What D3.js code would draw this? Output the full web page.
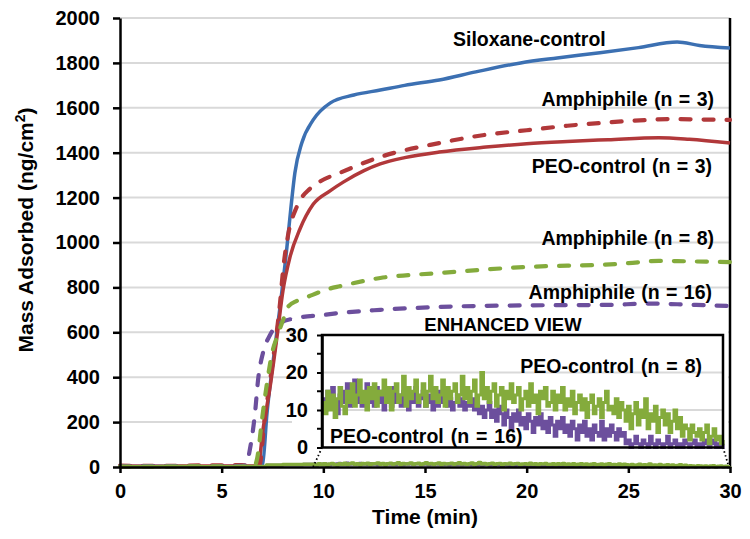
<!DOCTYPE html>
<html>
<head>
<meta charset="utf-8">
<script src="https://cdn.jsdelivr.net/npm/d3@7"></script>
<style>
  html, body { margin: 0; padding: 0; background: #fff; }
  svg { display: block; }
  text { font-family: "Liberation Sans", Arial, sans-serif; font-weight: bold; fill: #000; }
</style>
</head>
<body>
<svg id="chart" width="750" height="539"></svg>
<script>
// ---------- DATA ----------
const xTickValues = [0, 5, 10, 15, 20, 25, 30];
const yTickValues = [0, 200, 400, 600, 800, 1000, 1200, 1400, 1600, 1800, 2000];
const insetTickValues = [0, 10, 20, 30];
const insetMinorTicks = [5, 15, 25];

// Siloxane-control (blue solid)
const siloxaneTime  = [0, 2, 4, 6, 6.9, 7.0, 7.23, 7.62, 7.87, 8.21, 8.4, 8.6, 8.94, 9.5, 10.33, 11.5, 12.8, 14.0, 15.7, 17.5, 19.7, 21.5, 23.6, 25.5, 27.4, 28.5, 30];
const siloxaneMass  = [2, 3, 1, 3, 2, 5, 240, 535, 713, 980, 1150, 1310, 1443, 1546, 1621, 1657, 1679, 1700, 1724, 1760, 1800, 1822, 1845, 1868, 1893, 1878, 1866];

// PEO-control (n = 3) (red solid)
const peo3Time = [0, 2, 4, 6, 6.79, 7.03, 7.38, 7.72, 8.02, 8.36, 8.85, 9.5, 10.33, 11.0, 12.0, 12.8, 14.0, 15.7, 18.0, 20.0, 22.0, 24.0, 26.5, 28.0, 30];
const peo3Mass = [4, 3, 5, 4, 4, 165, 356, 579, 788, 935, 1060, 1170, 1230, 1270, 1320, 1350, 1378, 1403, 1425, 1440, 1450, 1458, 1467, 1460, 1443];

// Amphiphile (n = 3) (red dashed)
const amph3Time = [0, 2, 4, 6, 6.85, 7.1, 7.45, 7.87, 8.02, 8.26, 8.7, 9.35, 9.84, 10.8, 12.8, 15.7, 18.0, 20.0, 22.0, 24.0, 26.0, 27.0, 28.5, 30];
const amph3Mass = [6, 5, 7, 8, 6, 200, 430, 730, 877, 1030, 1160, 1240, 1272, 1310, 1381, 1443, 1480, 1500, 1520, 1535, 1546, 1550, 1548, 1546];

// Amphiphile (n = 8) (green dashed)
const amph8Time = [0, 2, 4, 6, 6.6, 6.75, 6.98, 7.23, 7.48, 7.72, 8.0, 8.26, 8.7, 9.2, 9.84, 10.33, 10.8, 12.8, 15.7, 18.0, 20.0, 22.0, 23.6, 25.0, 26.5, 28.0, 30];
const amph8Mass = [2, 2, 3, 2, 3, 40, 209, 374, 508, 579, 650, 713, 740, 757, 780, 795, 805, 842, 864, 880, 891, 897, 900, 908, 918, 916, 913];

// Amphiphile (n = 16) (purple dashed)
const amph16Time = [0, 2, 4, 6, 6.2, 6.39, 6.64, 6.79, 7.03, 7.38, 7.87, 8.7, 9.98, 10.8, 12.8, 15.7, 20.0, 24.0, 26.0, 28.0, 30];
const amph16Mass = [3, 4, 3, 5, 8, 80, 240, 388, 508, 588, 641, 664, 677, 686, 700, 713, 720, 722, 728, 723, 717];

// PEO-control (n = 8) and (n = 16): baseline before the enhanced window
const peoBaseTime = [0, 2, 4, 6, 6.8, 7.2, 8.0, 9.0];
const peo8Base    = [1, 2, 1, 2, 2, 9, 11, 12];
const peo16Base   = [1, 1, 2, 1, 1, 8, 10, 12];

// Enhanced view: sampled every 0.125 min from 9.5 to 30 min
const insetStart = 9.5;
const insetStep = 0.125;
const peo8Inset = [
  12, 9, 15, 10, 14, 8, 13, 16, 11, 9,
  15, 12, 17, 11, 14, 18, 12, 15, 10, 16,
  13, 17, 11, 15, 14, 18, 12, 16, 10, 15,
  17, 12, 14, 19, 11, 16, 13, 15, 18, 12,
  14, 17, 11, 15, 19, 13, 16, 12, 14, 18,
  11, 16, 13, 15, 17, 12, 14, 19, 13, 16,
  12, 15, 18, 11, 14, 20, 13, 16, 12, 15,
  17, 11, 14, 16, 10, 15, 13, 17, 12, 14,
  16, 10, 13, 15, 11, 17, 12, 14, 9, 15,
  13, 16, 11, 12, 15, 10, 14, 12, 16, 10,
  13, 11, 15, 9, 12, 14, 10, 13, 8, 12,
  14, 9, 11, 13, 8, 12, 15, 10, 11, 9,
  13, 8, 12, 10, 7, 11, 5, 9, 12, 6,
  10, 8, 13, 5, 9, 7, 11, 4, 8, 10,
  6, 9, 4, 7, 10, 5, 8, 3, 6, 5,
  2, 6, 4, 3, 5, 2, 4, 6, 1, 3,
  5, 2, 3, 1, 2
];
const peo16Inset = [
  13, 10, 15, 11, 16, 12, 9, 14, 12, 15,
  17, 11, 14, 18, 12, 15, 11, 13, 17, 12,
  14, 11, 16, 12, 15, 10, 13, 14, 11, 16,
  12, 14, 11, 15, 13, 10, 14, 12, 16, 11,
  13, 15, 11, 12, 14, 10, 13, 11, 15, 12,
  14, 11, 13, 10, 12, 14, 11, 13, 10, 12,
  11, 13, 10, 12, 9, 11, 8, 10, 12, 8,
  10, 7, 11, 9, 6, 10, 8, 5, 9, 7,
  10, 6, 8, 5, 9, 7, 4, 8, 6, 9,
  5, 7, 4, 8, 6, 3, 7, 5, 8, 4,
  6, 3, 7, 5, 2, 6, 4, 7, 3, 5,
  2, 6, 4, 3, 7, 2, 5, 3, 6, 4,
  2, 5, 3, 4, 1, 2, 0, 1, 3, 1,
  0, 2, 1, 0, 3, 1, 0, 2, 1, 0,
  1, 3, 0, 1, 2, 0, 1, 0, 2, 1,
  0, 1, 2, 0, 1, 0, 2, 1, 0, 1,
  2, 0, 1, 0, 1
];

// ---------- BUILD ----------
const zip = (ts, vs) => ts.map((t, i) => ({ t, v: vs[i] }));
const insetPts = vs => vs.map((v, i) => ({ t: insetStart + i * insetStep, v }));

const colors = { blue: "#3c70b2", red: "#b1383a", green: "#84ab3c", purple: "#6c4f9d", grid: "#d9d9d9" };
const FONT = "Liberation Sans, Arial, sans-serif";

const svg = d3.select("#chart");
const x = d3.scaleLinear().domain([0, 30]).range([120, 730]);
const y = d3.scaleLinear().domain([0, 2000]).range([467, 18]);

// gridlines
svg.append("g").selectAll("line").data(yTickValues.filter(d => d > 0)).join("line")
  .attr("x1", x(0)).attr("x2", x(30))
  .attr("y1", d => y(d)).attr("y2", d => y(d))
  .attr("stroke", colors.grid).attr("stroke-width", 2);

// right border
svg.append("line").attr("x1", x(30)).attr("x2", x(30)).attr("y1", y(2000)).attr("y2", y(0))
  .attr("stroke", "#000").attr("stroke-width", 2.5);

const line = d3.line().x(d => x(d.t)).y(d => y(d.v)).curve(d3.curveMonotoneX);
const stepLine = d3.line().x(d => x(d.t)).y(d => y(d.v)).curve(d3.curveStepAfter);

const mainSeries = [
  { pts: zip(siloxaneTime, siloxaneMass), color: colors.blue, dash: null, w: 3.5, gen: line },
  { pts: zip(peo3Time, peo3Mass), color: colors.red, dash: null, w: 3.5, gen: line },
  { pts: zip(amph3Time, amph3Mass), color: colors.red, dash: "10,13", w: 4.2, gen: line },
  { pts: zip(amph16Time, amph16Mass), color: colors.purple, dash: "10,13", w: 4.2, gen: line },
  { pts: zip(amph8Time, amph8Mass), color: colors.green, dash: "10,13", w: 4.2, gen: line },
  { pts: zip(peoBaseTime, peo16Base).concat(insetPts(peo16Inset)), color: colors.purple, dash: null, w: 3, gen: stepLine },
  { pts: zip(peoBaseTime, peo8Base).concat(insetPts(peo8Inset)), color: colors.green, dash: null, w: 3.5, gen: stepLine }
];

svg.append("g").selectAll("path").data(mainSeries).join("path")
  .attr("d", d => d.gen(d.pts))
  .attr("fill", "none")
  .attr("stroke", d => d.color)
  .attr("stroke-width", d => d.w)
  .attr("stroke-linecap", d => d.dash ? "round" : "butt")
  .attr("stroke-linejoin", "round")
  .attr("stroke-dasharray", d => d.dash);

// axes
const yAxis = svg.append("g").attr("transform", `translate(${x(0)},0)`)
  .call(d3.axisLeft(y).tickValues(yTickValues).tickFormat(d3.format("d")).tickSize(7).tickPadding(13).tickSizeOuter(0));
const xAxis = svg.append("g").attr("transform", `translate(0,${y(0)})`)
  .call(d3.axisBottom(x).tickValues(xTickValues).tickFormat(d3.format("d")).tickSize(6).tickPadding(11).tickSizeOuter(0));
[yAxis, xAxis].forEach(g => {
  g.select(".domain").attr("stroke", "#000").attr("stroke-width", 2.5);
  g.selectAll(".tick line").attr("stroke", "#000").attr("stroke-width", 2.5);
  g.selectAll(".tick text").attr("font-size", 20).attr("font-family", FONT).attr("font-weight", "bold").attr("fill", "#000");
});

// axis titles
svg.append("text").attr("x", x(15)).attr("y", 524).attr("text-anchor", "middle")
  .attr("font-size", 21).text("Time (min)");
const yt = svg.append("text").attr("transform", "translate(33,230) rotate(-90)")
  .attr("text-anchor", "middle").attr("font-size", 21);
yt.append("tspan").text("Mass Adsorbed (ng/cm");
yt.append("tspan").attr("font-size", 14).attr("dy", -8).text("2");
yt.append("tspan").attr("dy", 8).text(")");

// series labels
const labels = [
  { text: "Siloxane-control", x: 453, y: 46, anchor: "start" },
  { text: "Amphiphile (n = 3)", x: 714, y: 106, anchor: "end" },
  { text: "PEO-control (n = 3)", x: 712, y: 173, anchor: "end" },
  { text: "Amphiphile (n = 8)", x: 714, y: 245, anchor: "end" },
  { text: "Amphiphile (n = 16)", x: 712, y: 299, anchor: "end" }
];
svg.append("g").selectAll("text").data(labels).join("text")
  .attr("x", d => d.x).attr("y", d => d.y).attr("text-anchor", d => d.anchor)
  .attr("font-size", 19.5).attr("word-spacing", 1).text(d => d.text);

// ---------- INSET ----------
const xi = d3.scaleLinear().domain([9.5, 30]).range([322, 723]);
const yi = d3.scaleLinear().domain([0, 30]).range([447.5, 335]);

svg.append("rect").attr("x", 292).attr("y", 319).attr("width", 436).attr("height", 133).attr("fill", "#fff");

svg.append("g").selectAll("line").data([10, 20]).join("line")
  .attr("x1", xi(9.5)).attr("x2", xi(30)).attr("y1", d => yi(d)).attr("y2", d => yi(d))
  .attr("stroke", colors.grid).attr("stroke-width", 2);

const iline = d3.line().x(d => xi(d.t)).y(d => yi(d.v)).curve(d3.curveStepAfter);
svg.append("path").attr("d", iline(insetPts(peo16Inset))).attr("fill", "none")
  .attr("stroke", colors.purple).attr("stroke-width", 3.2);
svg.append("path").attr("d", iline(insetPts(peo8Inset))).attr("fill", "none")
  .attr("stroke", colors.green).attr("stroke-width", 3.2);

// inset frame
svg.append("rect").attr("x", xi(9.5)).attr("y", yi(30)).attr("width", xi(30) - xi(9.5)).attr("height", yi(0) - yi(30))
  .attr("fill", "none").attr("stroke", "#000").attr("stroke-width", 2.5);

const iAxis = svg.append("g").attr("transform", `translate(${xi(9.5)},0)`)
  .call(d3.axisLeft(yi).tickValues(insetTickValues).tickSize(5).tickPadding(9).tickSizeOuter(0));
iAxis.select(".domain").attr("stroke", "#000").attr("stroke-width", 2.5);
iAxis.selectAll(".tick line").attr("stroke", "#000").attr("stroke-width", 2);
iAxis.selectAll(".tick text").attr("font-size", 20).attr("font-family", FONT).attr("font-weight", "bold").attr("fill", "#000");
svg.append("g").selectAll("line").data(insetMinorTicks).join("line")
  .attr("x1", xi(9.5) - 5).attr("x2", xi(9.5)).attr("y1", d => yi(d)).attr("y2", d => yi(d))
  .attr("stroke", "#000").attr("stroke-width", 2);

svg.append("text").attr("x", 503).attr("y", 331).attr("text-anchor", "middle")
  .attr("font-size", 18.5).text("ENHANCED VIEW");
svg.append("text").attr("x", 702).attr("y", 373).attr("text-anchor", "end")
  .attr("font-size", 19.5).attr("word-spacing", 1.5).text("PEO-control (n = 8)");
svg.append("text").attr("x", 330).attr("y", 443).attr("text-anchor", "start")
  .attr("font-size", 19.5).attr("word-spacing", 1.5).text("PEO-control (n = 16)");

// dotted connectors
const connectors = [
  { x1: xi(9.5), y1: yi(0), x2: x(9.5), y2: y(0) },
  { x1: xi(30), y1: yi(0), x2: x(30) - 2, y2: y(0) - 3 }
];
svg.append("g").selectAll("line").data(connectors).join("line")
  .attr("x1", d => d.x1).attr("y1", d => d.y1).attr("x2", d => d.x2).attr("y2", d => d.y2)
  .attr("stroke", "#000").attr("stroke-width", 1.8).attr("stroke-dasharray", "1.5,2.5");
</script>
</body>
</html>
